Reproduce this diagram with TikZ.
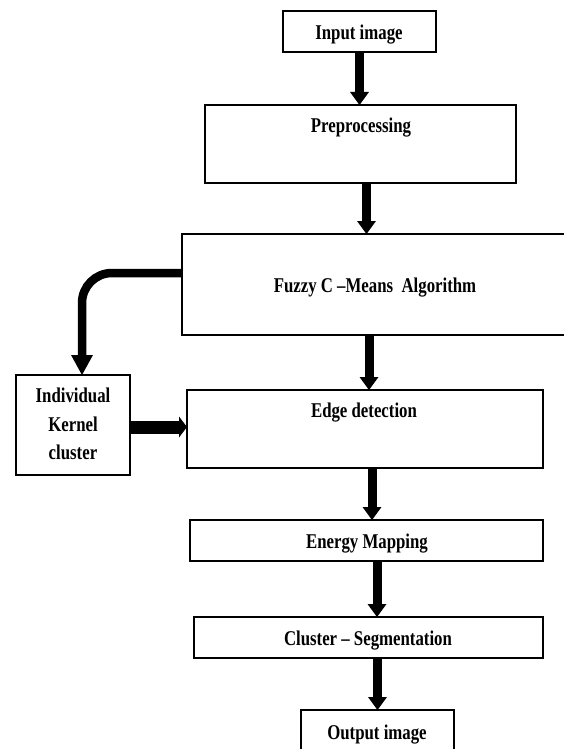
\documentclass[tikz,border=0pt]{standalone}
\usepackage{fontspec}
\newfontfamily\lblfont[FakeStretch=0.8]{Liberation Serif}
\usetikzlibrary{arrows.meta}
\tikzset{
  box/.style={draw, line width=2.2pt, inner sep=0pt, outer sep=0pt, anchor=north west, rectangle},
  txt/.style={font=\lblfont\bfseries\fontsize{21}{28.5}\selectfont, anchor=base, inner sep=0pt},
  varr/.style={line width=9pt, -{Triangle[width=19pt,length=13pt,line width=0pt]}},
  carr/.style={line width=8.5pt, -{Triangle[width=22pt,length=20pt,line width=0pt]}},
  harr/.style={line width=13pt, -{Triangle[width=21pt,length=8pt,line width=0pt]}}
}
\begin{document}
\begin{tikzpicture}[x=1pt,y=-1pt]
\useasboundingbox (0,0) rectangle (564,749);
\fill[white] (0,0) rectangle (564,749);
\clip (0,0) rectangle (564,749);

\node[box, minimum width=153pt, minimum height=41pt] (in) at (283,11) {};
\node[box, minimum width=311pt, minimum height=78pt] (pre) at (205,105) {};
\node[box, minimum width=393pt, minimum height=101pt] (fcm) at (182,234) {};
\node[box, minimum width=114pt, minimum height=100pt] (ker) at (16,375) {};
\node[box, minimum width=356pt, minimum height=78pt] (edge) at (187,390) {};
\node[box, minimum width=353pt, minimum height=41pt] (en) at (190,520) {};
\node[box, minimum width=349pt, minimum height=41pt] (cl) at (194,617) {};
\node[box, minimum width=153pt, minimum height=60pt] (out) at (301,710) {};

\node[txt] (tin) at (359,40) {Input image};
\node[txt] (tpre) at (361,132) {Preprocessing};
\node[txt] (tfcm) at (375,292) {Fuzzy C –Means\ \ Algorithm};
\node[txt, align=center, anchor=center] (tker) at (73,424) {Individual\\Kernel\\cluster};
\node[txt] (tedge) at (364,417) {Edge detection};
\node[txt] (ten) at (367,548) {Energy Mapping};
\node[txt] (tcl) at (368,645) {Cluster – Segmentation};
\node[txt] (tout) at (377,739) {Output image};

\draw[varr] (in.south) -- (in.south |- pre.north);
\draw[varr] ([xshift=6pt]pre.south) -- ([xshift=6pt]pre.south |- fcm.north);
\draw[varr] ([xshift=4pt]edge.north |- fcm.south) -- ([xshift=4pt]edge.north);
\draw[varr] ([xshift=7pt]edge.south) -- ([xshift=7pt]edge.south |- en.north);
\draw[varr] ([xshift=8.5pt]cl.north |- en.south) -- ([xshift=8.5pt]cl.north);
\draw[varr] (out.north |- cl.south) -- (out.north);
\draw[carr, rounded corners=30pt] ([yshift=11.5pt]fcm.west) -| ([xshift=9pt]ker.north);
\draw[harr] ([yshift=-2pt]ker.east) -- ([yshift=-2pt]ker.east -| edge.west);
\end{tikzpicture}
\end{document}
